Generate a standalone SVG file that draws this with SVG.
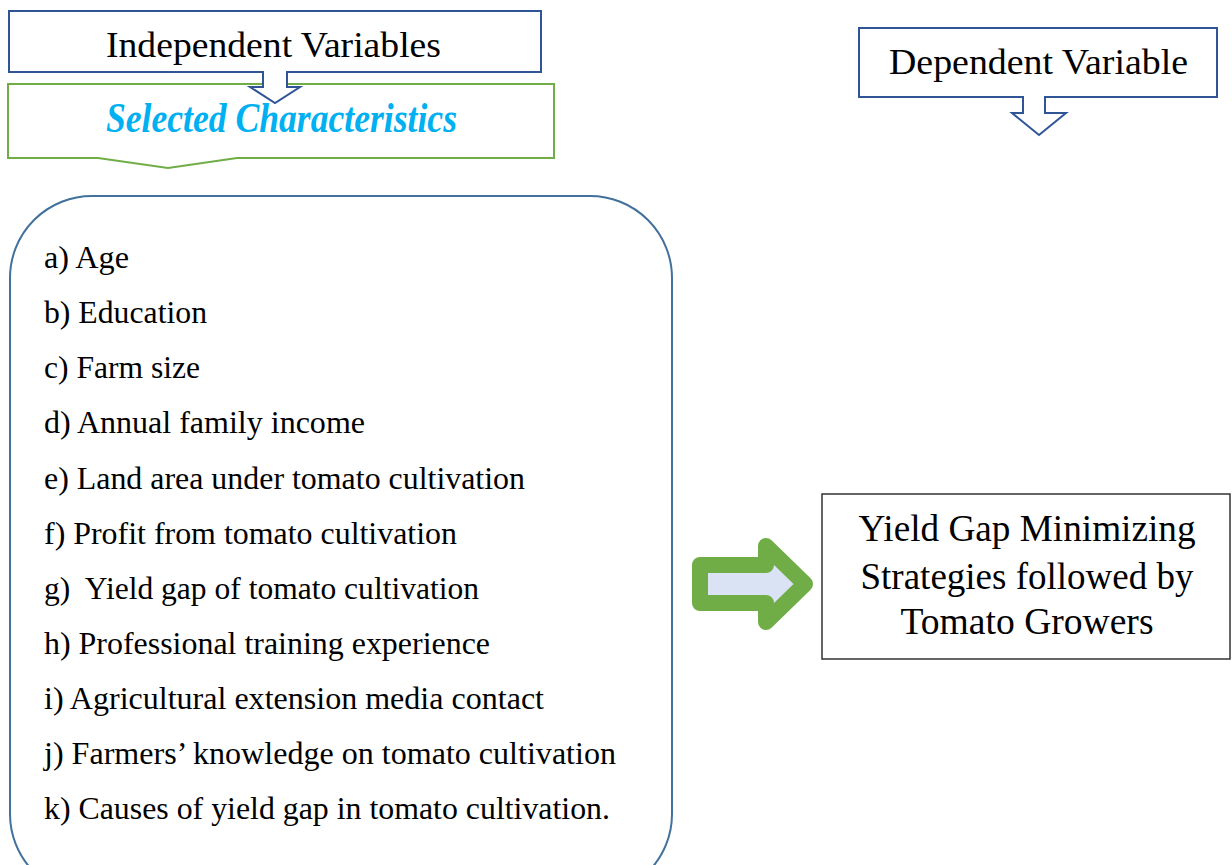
<svg xmlns="http://www.w3.org/2000/svg" width="1232" height="865" viewBox="0 0 1232 865">
  <style>
    .serif { font-family: "Liberation Serif", "Times New Roman", serif; fill: #000; }
    .head { font-size: 36px; }
    .item { font-size: 32px; }
    .goal { font-size: 37px; text-anchor: middle; }
    .blue { fill: #fff; stroke: #2F5597; stroke-width: 2; }
  </style>
  <rect width="1232" height="865" fill="#fff"/>

  <!-- independent variables callout -->
  <g id="independent">
    <path class="blue" d="M9,11 H541 V72 H287 V87 H300 L275,103 L250,87 H263 V72 H9 Z"/>
    <text class="serif head" x="106" y="57" textLength="335" lengthAdjust="spacingAndGlyphs">Independent Variables</text>
  </g>

  <!-- selected characteristics banner -->
  <g id="characteristics">
    <path d="M8,84 H554 V158 H237 L168,168 L98,158 H8 Z" fill="#fff" stroke="#70AD47" stroke-width="2"/>
    <path class="blue" d="M263,76 V87 H250 L275,103 L300,87 H287 V76" fill="none"/>
    <text x="106" y="132" font-family="'Liberation Serif', 'Times New Roman', serif" font-size="43" font-weight="bold" font-style="italic" fill="#00B0F0" textLength="351" lengthAdjust="spacingAndGlyphs">Selected Characteristics</text>
  </g>

  <!-- dependent variable callout -->
  <g id="dependent">
    <path class="blue" d="M859,28 H1217 V97 H1045 V113 H1066 L1039,135 L1012,113 H1023 V97 H859 Z"/>
    <text class="serif head" x="889" y="74" textLength="299" lengthAdjust="spacingAndGlyphs">Dependent Variable</text>
  </g>

  <!-- list of characteristics -->
  <g id="characteristics-list">
    <rect x="10" y="196" width="662" height="700" rx="82" ry="82" fill="#fff" stroke="#41719C" stroke-width="2"/>
    <g class="serif item">
      <text x="44" y="268" textLength="85" lengthAdjust="spacingAndGlyphs">a) Age</text>
      <text x="44" y="323" textLength="163" lengthAdjust="spacingAndGlyphs">b) Education</text>
      <text x="44" y="378" textLength="156" lengthAdjust="spacingAndGlyphs">c) Farm size</text>
      <text x="44" y="433" textLength="321" lengthAdjust="spacingAndGlyphs">d) Annual family income</text>
      <text x="44" y="489" textLength="481" lengthAdjust="spacingAndGlyphs">e) Land area under tomato cultivation</text>
      <text x="44" y="544" textLength="413" lengthAdjust="spacingAndGlyphs">f) Profit from tomato cultivation</text>
      <text x="44" y="599" textLength="435" lengthAdjust="spacingAndGlyphs">g)&#160; Yield gap of tomato cultivation</text>
      <text x="44" y="654" textLength="446" lengthAdjust="spacingAndGlyphs">h) Professional training experience</text>
      <text x="44" y="709" textLength="500" lengthAdjust="spacingAndGlyphs">i) Agricultural extension media contact</text>
      <text x="44" y="764" textLength="572" lengthAdjust="spacingAndGlyphs">j) Farmers’ knowledge on tomato cultivation</text>
      <text x="44" y="819" textLength="566" lengthAdjust="spacingAndGlyphs">k) Causes of yield gap in tomato cultivation.</text>
    </g>
  </g>

  <!-- connector -->
  <g id="connectors">
    <path d="M700,565 H766 V546 L805,584 L766,622 V603 H700 Z" fill="#DAE3F3" stroke="#70AD47" stroke-width="16" stroke-linejoin="round"/>
  </g>

  <!-- outcome -->
  <g id="outcome">
    <rect x="822" y="494" width="408" height="165" fill="#fff" stroke="#333" stroke-width="1.5"/>
    <g class="serif goal">
      <text x="1027" y="541" textLength="337" lengthAdjust="spacingAndGlyphs">Yield Gap Minimizing</text>
      <text x="1027" y="589" textLength="333" lengthAdjust="spacingAndGlyphs">Strategies followed by</text>
      <text x="1027" y="634" textLength="253" lengthAdjust="spacingAndGlyphs">Tomato Growers</text>
    </g>
  </g>
</svg>
